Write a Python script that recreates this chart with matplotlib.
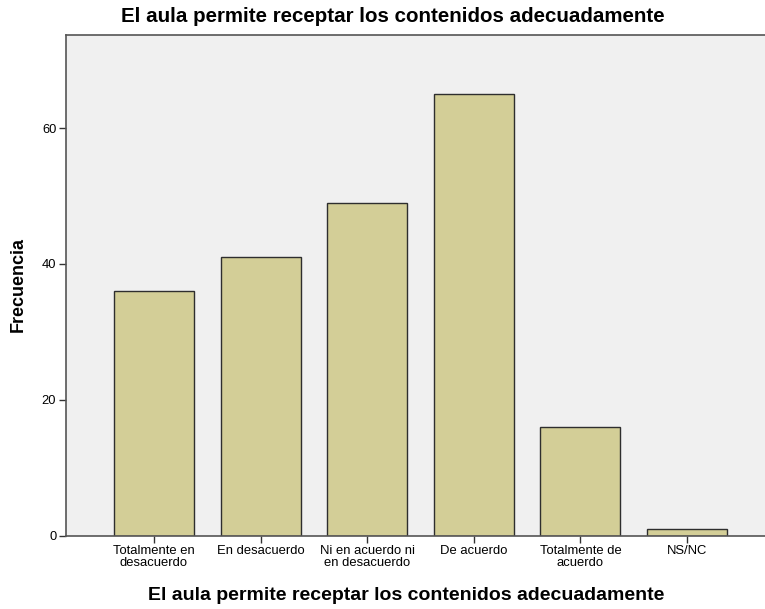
import matplotlib
matplotlib.use("Agg")
import matplotlib.pyplot as plt

categories = ["Totalmente en\ndesacuerdo", "En desacuerdo", "Ni en acuerdo ni\nen desacuerdo",
              "De acuerdo", "Totalmente de\nacuerdo", "NS/NC"]
values = [36, 41, 49, 65, 16, 1]
yticks = [0, 20, 40, 60]
title = "El aula permite receptar los contenidos adecuadamente"

plt.rcParams['font.family'] = ['Liberation Sans', 'DejaVu Sans']

fig = plt.figure(figsize=(7.65, 6.09), dpi=100)
ax = fig.add_axes([66/765, 1-535.5/609, (775-66)/765, (535.5-35)/609])
ax.set_facecolor("#F0F0F0")
x = list(range(len(categories)))
ax.bar(x, values, width=0.75, color="#D3CE97", edgecolor="#2E2E2E", linewidth=1.0, zorder=2)
ax.set_xlim(-0.825, 5.825)
ax.set_ylim(0, 73.7)
ax.set_yticks(yticks)
ax.set_yticklabels([str(v) for v in yticks], fontsize=9.3)
ax.set_xticks(x)
ax.set_xticklabels(categories, fontsize=9.4, linespacing=0.95)
ax.tick_params(axis='both', length=5, width=1, color="#333333", direction='out', pad=2)
for s in ['left', 'bottom', 'top']:
    ax.spines[s].set_color("#555555")
    ax.spines[s].set_linewidth(1.2)
ax.spines['right'].set_visible(False)

fig.text(393/765, 1-17/609, title, ha='center', va='center', fontsize=14.8, fontweight='bold')
fig.text(406/765, 1-595/609, title, ha='center', va='center', fontsize=14, fontweight='bold')
fig.text(18/765, 1-284/609, "Frecuencia", ha='center', va='center', rotation=90, fontsize=13, fontweight='bold')

fig.savefig("out.png", dpi=100)
